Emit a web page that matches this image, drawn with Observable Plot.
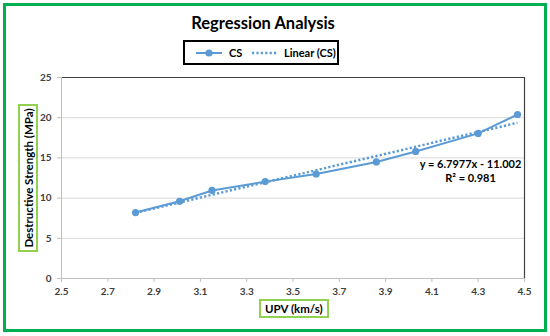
<!DOCTYPE html>
<html><head><meta charset="utf-8">
<script src="https://cdn.jsdelivr.net/npm/d3@7"></script>
<script src="https://cdn.jsdelivr.net/npm/@observablehq/plot@0.6"></script>
<style>
body{margin:0;background:#fff;font-family:Lato,"Open Sans",sans-serif;}
#wrap{position:relative;width:550px;height:336px;overflow:hidden;}
#frame{position:absolute;left:3px;top:3px;width:538px;height:323px;border:3px solid #00b050;}
#title{position:absolute;left:0;width:526px;top:13px;text-align:center;font-weight:bold;font-size:16.5px;color:#000;}
#legend{position:absolute;left:183px;top:40px;width:152px;height:21px;border:2.5px solid #000;background:#fff;}
.axlab{position:absolute;border:2.5px solid #92d050;font-weight:bold;font-size:11.5px;color:#000;background:#fff;white-space:nowrap;}
#xlab{left:259px;top:299px;padding:1px 4px;}
#ylab{left:18px;top:104px;width:16px;height:144px;}
#ylab span{position:absolute;left:50%;top:50%;transform:translate(-50%,-50%) rotate(-90deg);}
#chart{position:absolute;left:0;top:0;}
</style></head>
<body><div id="wrap">
<div id="chart"></div>
<div id="frame"></div>
<div id="title">Regression Analysis</div>
<div id="legend"></div>
<div class="axlab" id="xlab">UPV (km/s)</div>
<div class="axlab" id="ylab"><span>Destructive Strength (MPa)</span></div>
</div>
<script>
const upv = [2.82, 3.01, 3.15, 3.38, 3.60, 3.86, 4.03, 4.30, 4.47];
const cs = [8.2, 9.6, 10.95, 12.05, 13.0, 14.5, 15.8, 18.05, 20.4];
const trendX = [2.82, 4.47];
const trendY = [8.17, 19.38];
const xTicks = [2.5, 2.7, 2.9, 3.1, 3.3, 3.5, 3.7, 3.9, 4.1, 4.3, 4.5];
const yTicks = [0, 5, 10, 15, 20, 25];
const eqText = "y = 6.7977x - 11.002\nR² = 0.981";
const blue = "#5b9bd5";

const data = upv.map((x, i) => ({x, y: cs[i]}));
const trend = trendX.map((x, i) => ({x, y: trendY[i]}));

const chart = Plot.plot({
  width: 550, height: 336,
  marginLeft: 61, marginRight: 26, marginTop: 77, marginBottom: 58,
  style: {fontFamily: "Lato, 'Open Sans', sans-serif", fontSize: "10px", fontWeight: "bold", color: "#404040", background: "transparent"},
  x: {domain: [2.5, 4.5], ticks: xTicks, tickFormat: d3.format(".1f"), label: null},
  y: {domain: [0, 25], ticks: yTicks, label: null},
  marks: [
    Plot.ruleY(yTicks.filter(d => d > 0 && d < 25), {stroke: "#d9d9d9", strokeWidth: 1}),
    Plot.ruleY([25], {stroke: "#404040", strokeWidth: 1.2}),
    Plot.ruleX([4.5], {stroke: "#404040", strokeWidth: 1.2}),
    Plot.ruleX([2.5], {stroke: "#bfbfbf"}),
    Plot.ruleY([0], {stroke: "#bfbfbf"}),
    Plot.axisX({ticks: xTicks, tickFormat: d3.format(".1f"), stroke: "#bfbfbf", tickSize: 4, tickPadding: 5, label: null}),
    Plot.axisY({ticks: yTicks, stroke: "#bfbfbf", tickSize: 4, tickPadding: 6, label: null}),
    Plot.line(data, {x: "x", y: "y", stroke: blue, strokeWidth: 2}),
    Plot.dot(data, {x: "x", y: "y", r: 3.6, fill: blue, stroke: "none"}),
    Plot.line(trend, {x: "x", y: "y", stroke: blue, strokeWidth: 2.5, strokeDasharray: "2.2,2.2", strokeLinecap: "butt"}),
    Plot.text([eqText], {x: 4.267, y: 13.4, text: d => d, fill: "#000", fontSize: 11, fontWeight: "bold", lineHeight: 1.2})
  ]
});
document.getElementById("chart").appendChild(chart);

// legend
const leg = d3.select("#legend").append("svg").attr("width", 152).attr("height", 21);
leg.append("line").attr("x1", 11).attr("x2", 37).attr("y1", 11).attr("y2", 11).attr("stroke", blue).attr("stroke-width", 2);
leg.append("circle").attr("cx", 24).attr("cy", 11).attr("r", 3.6).attr("fill", blue);
leg.append("text").attr("x", 44).attr("y", 15).text("CS").attr("font-weight", "bold").attr("font-size", 11).attr("font-family", "Lato, sans-serif");
leg.append("line").attr("x1", 67).attr("x2", 92).attr("y1", 11).attr("y2", 11).attr("stroke", blue).attr("stroke-width", 2.5).attr("stroke-dasharray", "2.2,2.2");
leg.append("text").attr("x", 99).attr("y", 15).text("Linear (CS)").attr("font-weight", "bold").attr("font-size", 11).attr("font-family", "Lato, sans-serif");
</script>
</body></html>
